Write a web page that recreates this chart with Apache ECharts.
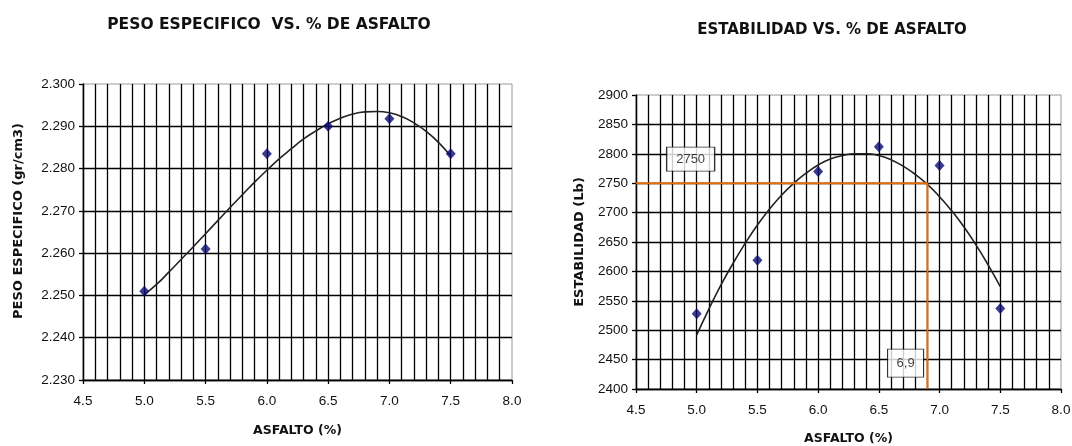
<!DOCTYPE html>
<html>
<head>
<meta charset="utf-8">
<title>Peso específico y estabilidad vs. % de asfalto</title>
<script src="https://cdn.jsdelivr.net/npm/echarts@6/dist/echarts.min.js"></script>
<style>
  html, body { margin: 0; padding: 0; background: #fff; }
  #chart { width: 1072px; height: 446px; }
</style>
</head>
<body>
<div id="chart"></div>
<script>
// Ensayo Marshall: contenido de asfalto (%) de cada briqueta
const asfalto = [5.0, 5.5, 6.0, 6.5, 7.0, 7.5];
// Peso específico medido (gr/cm3)
const pesoEspecifico = [2.251, 2.261, 2.2835, 2.290, 2.2918, 2.2835];
// Estabilidad medida (Lb)
const estabilidad = [2528, 2619, 2770, 2812, 2780, 2537];

// Curvas de tendencia trazadas sobre cada gráfico (valores cada 0,1 % de asfalto)
const curvaAsfalto = [5.0, 5.1, 5.2, 5.3, 5.4, 5.5, 5.6, 5.7, 5.8, 5.9, 6.0, 6.1, 6.2,
                      6.3, 6.4, 6.5, 6.6, 6.7, 6.8, 6.9, 7.0, 7.1, 7.2, 7.3, 7.4, 7.5];
const curvaPeso = [2.2502, 2.2526, 2.2555, 2.2585, 2.2615, 2.2646, 2.2677, 2.2708, 2.2738,
                   2.2768, 2.2796, 2.2823, 2.2847, 2.2870, 2.2889, 2.2906, 2.2919, 2.2929,
                   2.2934, 2.2935, 2.2932, 2.2923, 2.2908, 2.2888, 2.2862, 2.2830];
const curvaEstabilidad = [2492, 2536, 2577, 2614, 2648, 2679, 2706, 2730, 2750, 2767, 2781,
                          2791, 2797, 2800, 2800, 2797, 2790, 2779, 2765, 2748, 2727, 2703,
                          2676, 2645, 2611, 2574];

// Estabilidad de diseño y el % de asfalto que le corresponde
const estabilidadDiseno = 2750;
const asfaltoDiseno = 6.9;

// Ejes
const ejeAsfalto = { min: 4.5, max: 8.0, interval: 0.5 };
const ejePeso = { min: 2.23, max: 2.30, interval: 0.01 };
const ejeEstabilidad = { min: 2400, max: 2900, interval: 50 };

const zip = (xs, ys) => xs.map((x, i) => [x, ys[i]]);

const tickFont = { fontFamily: 'Liberation Sans, Arial, sans-serif', fontSize: 13.5, color: '#111' };
const nameFont = { fontFamily: 'DejaVu Sans, sans-serif', fontWeight: 'bold', color: '#111' };
const gridLine = { color: '#000', width: 1.3 };

function xAxisFor(gridIndex, gap) {
  return {
    gridIndex,
    type: 'value',
    min: ejeAsfalto.min, max: ejeAsfalto.max, interval: ejeAsfalto.interval,
    name: 'ASFALTO (%)',
    nameLocation: 'middle',
    nameGap: gap,
    nameTextStyle: Object.assign({ fontSize: 12.5 }, nameFont),
    axisLine: { show: true, lineStyle: { color: '#000', width: 1.3 } },
    axisTick: { show: true, length: 4, lineStyle: { color: '#000', width: 1.3 } },
    axisLabel: Object.assign({ margin: 14, formatter: v => v.toFixed(1) }, tickFont),
    splitLine: { show: true, showMaxLine: false, lineStyle: gridLine },
    minorTick: { show: false, splitNumber: 5 },
    minorSplitLine: { show: true, lineStyle: gridLine }
  };
}

function yAxisFor(gridIndex, eje, name, gap, digits, pad) {
  return {
    gridIndex,
    type: 'value',
    min: eje.min, max: eje.max, interval: eje.interval,
    name,
    nameLocation: 'middle',
    nameRotate: 90,
    nameGap: gap,
    nameTextStyle: Object.assign({ fontSize: 13, padding: pad }, nameFont),
    axisLine: { show: true, lineStyle: { color: '#000', width: 1.3 } },
    axisTick: { show: true, length: 4, lineStyle: { color: '#000', width: 1.3 } },
    axisLabel: Object.assign({ margin: 8, formatter: v => v.toFixed(digits) }, tickFont),
    splitLine: { show: true, showMaxLine: false, lineStyle: gridLine }
  };
}

const chart = echarts.init(document.getElementById('chart'), null, { renderer: 'canvas' });

chart.setOption({
  animation: false,
  backgroundColor: '#fff',
  title: [
    {
      text: 'PESO ESPECIFICO  VS. % DE ASFALTO',
      left: 269, top: 25, padding: 0,
      textAlign: 'center', textVerticalAlign: 'middle',
      textStyle: Object.assign({ fontSize: 15.5 }, nameFont)
    },
    {
      text: 'ESTABILIDAD VS. % DE ASFALTO',
      left: 832, top: 30, padding: 0,
      textAlign: 'center', textVerticalAlign: 'middle',
      textStyle: Object.assign({ fontSize: 15 }, nameFont)
    }
  ],
  grid: [
    { left: 83, top: 84, width: 429, height: 296, outerBoundsMode: 'none', containLabel: false,
      show: true, borderColor: '#999', borderWidth: 1, backgroundColor: '#fff' },
    { left: 636, top: 95, width: 425, height: 294, outerBoundsMode: 'none', containLabel: false,
      show: true, borderColor: '#999', borderWidth: 1, backgroundColor: '#fff' }
  ],
  xAxis: [xAxisFor(0, 44), xAxisFor(1, 43)],
  yAxis: [
    yAxisFor(0, ejePeso, 'PESO ESPECIFICO (gr/cm3)', 58, 3, [0, 0, 0, 22]),
    yAxisFor(1, ejeEstabilidad, 'ESTABILIDAD (Lb)', 50, 0, 0)
  ],
  series: [
    {
      name: 'Tendencia peso específico',
      type: 'line', xAxisIndex: 0, yAxisIndex: 0,
      data: zip(curvaAsfalto, curvaPeso),
      smooth: true, showSymbol: false, silent: true,
      lineStyle: { color: '#222', width: 1.6 },
      z: 3
    },
    {
      name: 'Peso específico',
      type: 'scatter', xAxisIndex: 0, yAxisIndex: 0,
      data: zip(asfalto, pesoEspecifico),
      symbol: 'diamond', symbolSize: [10, 11],
      itemStyle: { color: '#0a0a70' },
      z: 4
    },
    {
      name: 'Tendencia estabilidad',
      type: 'line', xAxisIndex: 1, yAxisIndex: 1,
      data: zip(curvaAsfalto, curvaEstabilidad),
      smooth: true, showSymbol: false, silent: true,
      lineStyle: { color: '#222', width: 1.6 },
      z: 3
    },
    {
      name: 'Estabilidad de diseño',
      type: 'line', xAxisIndex: 1, yAxisIndex: 1,
      data: [
        [ejeAsfalto.min, estabilidadDiseno],
        [asfaltoDiseno, estabilidadDiseno],
        [asfaltoDiseno, ejeEstabilidad.min]
      ],
      showSymbol: false, silent: true,
      lineStyle: { color: '#e46c0a', width: 2 },
      z: 3
    },
    {
      name: 'Estabilidad',
      type: 'scatter', xAxisIndex: 1, yAxisIndex: 1,
      data: zip(asfalto, estabilidad),
      symbol: 'diamond', symbolSize: [10, 11],
      itemStyle: { color: '#0a0a70' },
      z: 4
    },
    {
      name: 'Rótulos de diseño',
      type: 'scatter', xAxisIndex: 1, yAxisIndex: 1,
      symbol: 'rect',
      itemStyle: { color: '#fff', borderColor: '#000', borderWidth: 1 },
      label: {
        show: true, position: 'inside',
        formatter: p => p.name,
        fontFamily: 'Liberation Sans, Arial, sans-serif', fontSize: 13, color: '#111'
      },
      data: [
        { name: String(estabilidadDiseno), value: [4.95, 2791], symbolSize: [48, 24] },
        { name: String(asfaltoDiseno).replace('.', ','), value: [6.72, 2444], symbolSize: [36, 28] }
      ],
      z: 5
    }
  ]
});
</script>
</body>
</html>
